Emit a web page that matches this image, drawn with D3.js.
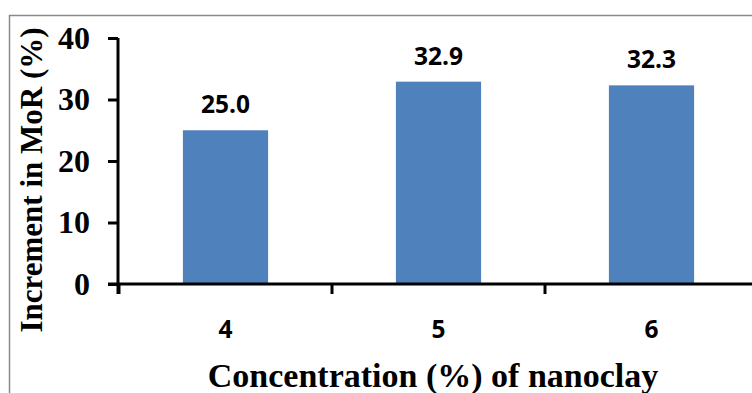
<!DOCTYPE html>
<html><head><meta charset="utf-8">
<script src="https://cdn.jsdelivr.net/npm/d3@7/dist/d3.min.js"></script>
<style>body{margin:0;background:#fff;} svg{display:block;}</style>
</head><body>
<svg id="c" width="752" height="393"></svg>
<script>
const categories = ["4", "5", "6"];
const values = [25.0, 32.9, 32.3];
const valueLabels = ["25.0", "32.9", "32.3"];
const yTicks = [0, 10, 20, 30, 40];
const xTitle = "Concentration (%) of nanoclay";
const yTitle = "Increment in MoR (%)";

const svg = d3.select("#c");
// outer border
svg.append("rect").attr("x", 9.5).attr("y", 15.5).attr("width", 760).attr("height", 400)
  .attr("fill", "none").attr("stroke", "#8a8a8a").attr("stroke-width", 1.5);

const x = d3.scaleBand().domain(categories).range([119, 758]).paddingInner(0.6).paddingOuter(0.3);
const y = d3.scaleLinear().domain([0, 40]).range([284, 38]);

// bars
svg.selectAll("rect.bar").data(values).enter().append("rect").attr("class", "bar")
  .attr("x", (d, i) => x(categories[i]))
  .attr("y", d => y(d))
  .attr("width", x.bandwidth())
  .attr("height", d => y(0) - y(d))
  .attr("fill", "#4f81bd");

// value labels
svg.selectAll("text.val").data(values).enter().append("text").attr("class", "val")
  .attr("x", (d, i) => x(categories[i]) + x.bandwidth() / 2)
  .attr("y", d => y(d) - 17)
  .attr("text-anchor", "middle")
  .attr("font-family", "'Open Sans', sans-serif").attr("font-weight", "bold").attr("font-size", 24.5)
  .attr("fill", "#000")
  .text((d, i) => valueLabels[i]);

// y axis
const yAxis = d3.axisLeft(y).tickValues(yTicks).tickSize(10).tickPadding(18).tickFormat(d3.format("d"));
const gy = svg.append("g").attr("transform", "translate(118,0)").call(yAxis);
gy.select(".domain").attr("stroke", "#000").attr("stroke-width", 3).attr("d", `M0,${y(40)}V${y(0) + 10}`);
gy.selectAll(".tick line").attr("stroke", "#000").attr("stroke-width", 3);
gy.selectAll(".tick text").attr("font-family", "'Liberation Serif', 'Times New Roman', serif")
  .attr("font-weight", "bold").attr("font-size", 32).attr("fill", "#000");

// x axis
const step = x.step();
const bounds = categories.map(c => x(c) + x.bandwidth() / 2 - step / 2).concat([x(categories[categories.length - 1]) + x.bandwidth() / 2 + step / 2]);
svg.append("line").attr("x1", 108).attr("x2", 760).attr("y1", y(0)).attr("y2", y(0))
  .attr("stroke", "#000").attr("stroke-width", 3);
svg.selectAll("line.xt").data(bounds).enter().append("line").attr("class", "xt")
  .attr("x1", d => d).attr("x2", d => d).attr("y1", y(0)).attr("y2", y(0) + 10)
  .attr("stroke", "#000").attr("stroke-width", 3);
svg.selectAll("text.xl").data(categories).enter().append("text").attr("class", "xl")
  .attr("x", d => x(d) + x.bandwidth() / 2).attr("y", 338)
  .attr("text-anchor", "middle")
  .attr("font-family", "'Open Sans', sans-serif").attr("font-weight", "bold").attr("font-size", 24.5)
  .attr("fill", "#000").text(d => d);

// titles
svg.append("text").attr("x", 433).attr("y", 387).attr("text-anchor", "middle")
  .attr("font-family", "'Liberation Serif', 'Times New Roman', serif").attr("font-weight", "bold").attr("font-size", 34)
  .attr("fill", "#000").text(xTitle);
svg.append("text").attr("transform", "translate(42,180) rotate(-90)").attr("text-anchor", "middle")
  .attr("font-family", "'Liberation Serif', 'Times New Roman', serif").attr("font-weight", "bold").attr("font-size", 31)
  .attr("fill", "#000").text(yTitle);
</script>
</body></html>
